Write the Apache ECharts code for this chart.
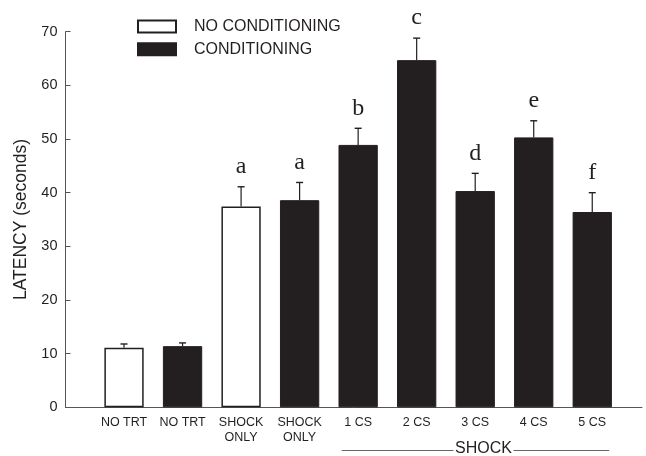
<!DOCTYPE html>
<html>
<head>
<meta charset="utf-8">
<script src="https://cdn.jsdelivr.net/npm/echarts@6/dist/echarts.min.js"></script>
<style>
html,body{margin:0;padding:0;background:#fff;}
#chart{width:646px;height:456px;}
</style>
</head>
<body>
<div id="chart"></div>
<script>
// ---- data ----
const categories = ['NO TRT', 'NO TRT', 'SHOCK\nONLY', 'SHOCK\nONLY', '1 CS', '2 CS', '3 CS', '4 CS', '5 CS'];
const conditioning = [false, true, false, true, true, true, true, true, true];
const latency = [11.1, 11.4, 37.4, 38.6, 48.9, 64.7, 40.3, 50.3, 36.4];
const sem = [0.7, 0.6, 3.7, 3.3, 3.1, 4.1, 3.3, 3.1, 3.6];
const letters = ['', '', 'a', 'a', 'b', 'c', 'd', 'e', 'f'];
const seriesNames = ['NO CONDITIONING', 'CONDITIONING'];
const yMin = 0, yMax = 70, yInterval = 10;
const shockLabel = 'SHOCK';
const shockFirst = 5, shockLast = 9; // positions spanned by SHOCK bracket

const INK = '#231f20';
const FONT = '"Liberation Sans", Arial, Helvetica, sans-serif';

const noCondData = [], condData = [], errData = [];
categories.forEach((c, i) => {
  const pt = [i + 1, latency[i]];
  if (conditioning[i]) condData.push(pt); else noCondData.push(pt);
  errData.push([i + 1, latency[i], latency[i] + sem[i], letters[i]]);
});

const chart = echarts.init(document.getElementById('chart'), null, {renderer: 'canvas'});

const option = {
  animation: false,
  backgroundColor: '#fff',
  grid: {left: 65.5, right: 4, top: 31.7, bottom: 48.7, containLabel: false},
  legend: {
    orient: 'vertical',
    left: 132, top: 13.5,
    itemWidth: 38, itemHeight: 12, itemGap: 6.8,
    icon: 'rect',
    data: seriesNames,
    textStyle: {fontFamily: FONT, fontSize: 16, lineHeight: 12, color: INK, padding: [0, 0, 0, 13]}
  },
  xAxis: {
    type: 'value',
    min: 0, max: 9.85, interval: 1,
    splitLine: {show: false},
    axisTick: {show: false},
    axisLine: {show: true, lineStyle: {color: '#555', width: 1}},
    axisLabel: {
      show: true,
      margin: 7,
      fontFamily: FONT, fontSize: 12.5, color: INK, lineHeight: 15.5,
      showMaxLabel: false, showMinLabel: false,
      formatter: function (v) {
        const k = Math.round(v);
        if (Math.abs(v - k) > 1e-6 || k < 1 || k > categories.length) return '';
        return categories[k - 1];
      }
    }
  },
  yAxis: {
    type: 'value',
    min: yMin, max: yMax, interval: yInterval,
    name: 'LATENCY (seconds)',
    nameLocation: 'middle',
    nameGap: 35,
    nameRotate: 90,
    nameTextStyle: {fontFamily: FONT, fontSize: 17.5, color: INK},
    splitLine: {show: false},
    axisLine: {show: true, lineStyle: {color: '#555', width: 1}},
    axisTick: {show: true, inside: true, length: 5, lineStyle: {color: '#555'}},
    axisLabel: {margin: 8, fontFamily: FONT, fontSize: 14.5, color: INK}
  },
  series: [
    {
      name: seriesNames[0], type: 'bar', data: noCondData,
      barWidth: 39.3, barGap: '-100%',
      itemStyle: {color: '#ffffff', borderColor: INK, borderWidth: 1.5}
    },
    {
      name: seriesNames[1], type: 'bar', data: condData,
      barWidth: 39.3, barGap: '-100%',
      itemStyle: {color: INK, borderColor: INK, borderWidth: 1}
    },
    {
      name: 'err', type: 'custom', data: errData,
      z: 5,
      renderItem: function (params, api) {
        const x = api.value(0);
        const base = api.coord([x, api.value(1)]);
        const top = api.coord([x, api.value(2)]);
        const letter = errData[params.dataIndex][3];
        const capHalf = 3.5;
        const children = [
          {type: 'line', shape: {x1: base[0], y1: base[1], x2: top[0], y2: top[1]},
           style: {stroke: INK, lineWidth: 1.2}},
          {type: 'line', shape: {x1: top[0] - capHalf, y1: top[1], x2: top[0] + capHalf, y2: top[1]},
           style: {stroke: INK, lineWidth: 1.4}}
        ];
        if (letter) {
          children.push({type: 'text', x: top[0], y: top[1] - 20,
            style: {text: letter, fill: INK, font: '24px "Liberation Serif", "Times New Roman", serif',
                    align: 'center', verticalAlign: 'middle'}});
        }
        return {type: 'group', children: children};
      }
    }
  ]
};
chart.setOption(option);

// SHOCK bracket below the shock-group labels
const pL = chart.convertToPixel({gridIndex: 0}, [shockFirst - 0.28, 0]);
const pR = chart.convertToPixel({gridIndex: 0}, [shockLast + 0.29, 0]);
const yLine = 450.5;
const midX = (pL[0] + pR[0]) / 2 + 8;
const halfText = 29;
chart.setOption({
  graphic: [
    {type: 'line', shape: {x1: pL[0], y1: yLine, x2: midX - halfText - 1, y2: yLine}, style: {stroke: '#666', lineWidth: 1}},
    {type: 'line', shape: {x1: midX + halfText + 1, y1: yLine, x2: pR[0], y2: yLine}, style: {stroke: '#666', lineWidth: 1}},
    {type: 'text', x: midX, y: 449, style: {text: shockLabel, fill: INK, font: '16px ' + FONT, align: 'center', verticalAlign: 'middle'}}
  ]
});
</script>
</body>
</html>
